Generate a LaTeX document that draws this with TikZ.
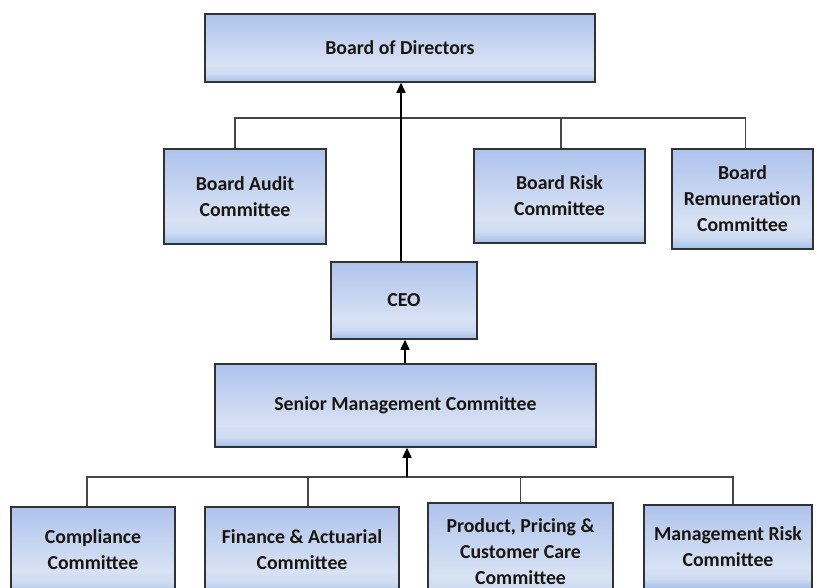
\documentclass[tikz,border=0pt]{standalone}
\usepackage{fontspec}
\setmainfont{Carlito}
\usetikzlibrary{arrows.meta,calc}
\definecolor{ctop}{RGB}{174,195,236}
\definecolor{clight}{RGB}{216,226,244}
\definecolor{cmid}{RGB}{206,219,242}
\definecolor{cbot}{RGB}{160,192,234}
\definecolor{cedge}{RGB}{50,50,50}
\definecolor{cline}{RGB}{70,70,70}
\definecolor{ctext}{RGB}{25,20,15}
\pgfdeclareverticalshading{boxshade}{100bp}{color(0bp)=(cbot); color(25bp)=(cbot); color(31bp)=(cmid); color(38bp)=(clight); color(75bp)=(ctop); color(100bp)=(ctop)}
\tikzset{
  orgbox/.style={draw=cedge, line width=1.5pt, shading=boxshade, align=center,
    font=\fontsize{19.8}{26}\selectfont\bfseries, text=ctext, inner sep=0pt},
  busline/.style={draw=cline, line width=1.5pt},
  arr/.style={draw=black, line width=1.5pt, -{Triangle[length=10pt,width=9pt]}}
}
\begin{document}
\begin{tikzpicture}[x=1pt,y=-1pt]
\useasboundingbox (0,0) rectangle (817,587);
\clip (0,0) rectangle (817,587);
% top level
\node[orgbox, minimum width=390, minimum height=68] (bod) at (400,48) {Board of Directors};
\node[orgbox, minimum width=162, minimum height=95] (audit) at (245,196.5) {Board Audit\\Committee};
\node[orgbox, minimum width=171, minimum height=94] (risk) at (559.5,196) {Board Risk\\Committee};
\node[orgbox, minimum width=141, minimum height=100] (remun) at (742.5,199) {Board\\Remuneration\\Committee};
\node[orgbox, minimum width=146, minimum height=77] (ceo) at (404,300.5) {CEO};
\node[orgbox, minimum width=381, minimum height=83] (smc) at (405.5,405.5) {Senior Management Committee};
% bottom level
\node[orgbox, minimum width=164, minimum height=86] (comp) at (93,550) {Compliance\\Committee};
\node[orgbox, minimum width=194, minimum height=86] (fin) at (302,550) {Finance \& Actuarial\\Committee};
\node[orgbox, minimum width=185, minimum height=98] (prod) at (520.5,552) {Product, Pricing \&\\Customer Care\\Committee};
\node[orgbox, minimum width=168, minimum height=84] (mrisk) at (728,547) {Management Risk\\Committee};
% bus coordinates
\coordinate (topbus) at (0,118);
\coordinate (botbus) at (0,477);
% upper bus
\draw[busline] ([xshift=-10pt]audit.north) -- ([xshift=-10pt]audit.north |- topbus) -- ([xshift=3pt]remun.north |- topbus) -- ([xshift=3pt]remun.north);
\draw[busline] ([xshift=1.5pt]risk.north) -- ([xshift=1.5pt]risk.north |- topbus);
% lower bus
\draw[busline] ([xshift=-6pt]comp.north) -- ([xshift=-6pt]comp.north |- botbus) -- ([xshift=5pt]mrisk.north |- botbus) -- ([xshift=5pt]mrisk.north);
\draw[busline] ([xshift=6pt]fin.north) -- ([xshift=6pt]fin.north |- botbus);
\draw[busline] (prod.north) -- (prod.north |- botbus);
% arrows
\draw[arr] ([xshift=1.5pt]smc.south |- botbus) -- ([xshift=1.5pt]smc.south);
\draw[arr] ([xshift=-0.5pt]smc.north) -- ([xshift=-0.5pt]smc.north |- ceo.south);
\draw[arr] ([xshift=-3pt]ceo.north) -- ([xshift=-3pt]ceo.north |- bod.south);
\end{tikzpicture}
\end{document}
